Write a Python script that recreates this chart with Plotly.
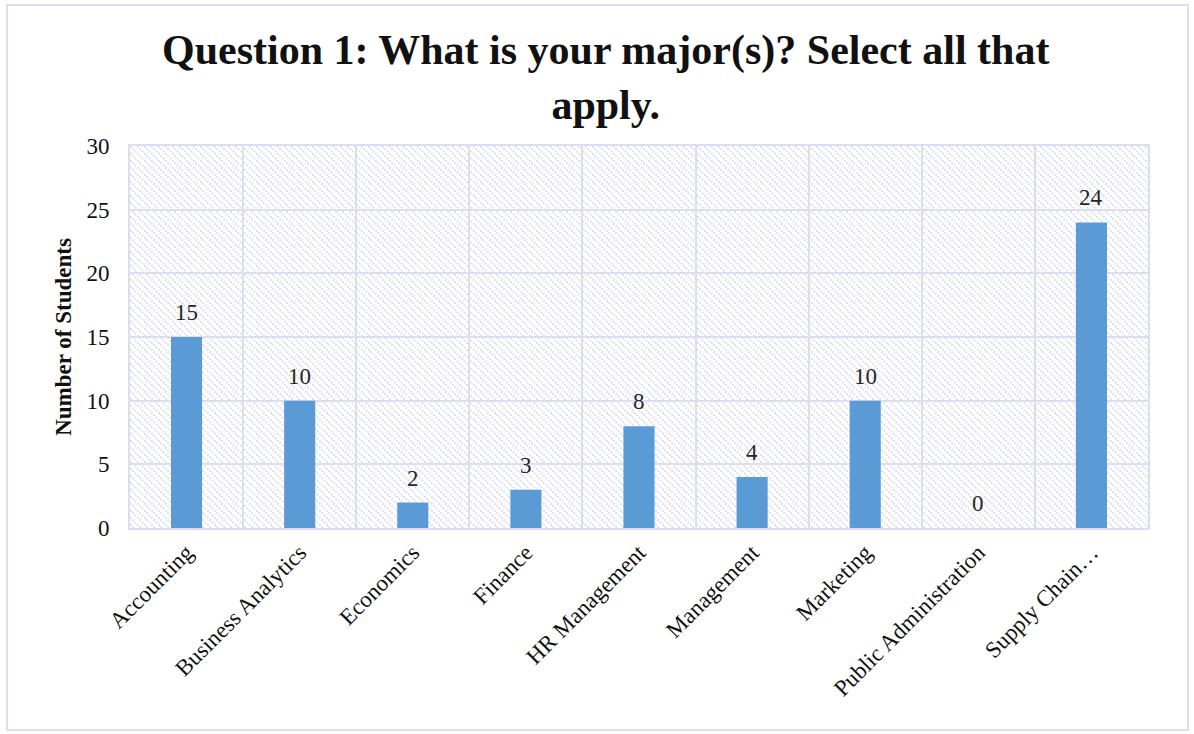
import base64
import plotly.graph_objects as go

# Survey responses: majors chosen by students (multiple answers allowed)
majors = [
    "Accounting", "Business Analytics", "Economics", "Finance",
    "HR Management", "Management", "Marketing",
    "Public Administration", "Supply Chain…",
]
students = [15, 10, 2, 3, 8, 4, 10, 0, 24]
y_ticks = [0, 5, 10, 15, 20, 25, 30]

TITLE = "Question 1: What is your major(s)? Select all that<br>apply."
FONT = "Liberation Serif, Times New Roman, serif"
GRID = "#dcdcf3"
BAR = "#5b9bd5"
INK = "#111111"

# Light downward-diagonal dotted hatch used as the plot-area fill
dots = "".join(
    f'<rect x="{k * 7 / 3:.2f}" y="{k * 7 / 3:.2f}" width="1.7" height="1.7" fill="#d4d4f0"/>'
    for k in range(3)
)
hatch_svg = (
    '<svg xmlns="http://www.w3.org/2000/svg" width="1018" height="382">'
    '<defs><pattern id="p" width="7" height="7" patternUnits="userSpaceOnUse">'
    + dots +
    '</pattern></defs>'
    '<rect width="100%" height="100%" fill="url(#p)"/></svg>'
)
hatch_uri = "data:image/svg+xml;base64," + base64.b64encode(hatch_svg.encode()).decode()

fig = go.Figure(
    go.Bar(
        x=majors,
        y=students,
        width=0.275,
        marker=dict(color=BAR, line=dict(width=0)),
        hoverinfo="x+y",
    )
)

# Value labels above each bar
for m, v in zip(majors, students):
    fig.add_annotation(
        x=m, y=v, text=str(v), showarrow=False,
        yanchor="bottom", yshift=10,
        font=dict(family=FONT, size=23, color="#262626"),
    )

W, H = 1194, 734
L, R, T, B = 130, 46, 146, 206
pw, ph = W - L - R, H - T - B

fig.add_annotation(
    xref="paper", yref="paper",
    x=(605 - L) / pw, y=(H - B - 77) / ph,
    text=TITLE, showarrow=False,
    xanchor="center", yanchor="middle",
    font=dict(family=FONT, size=42, color=INK, weight="bold"),
)

fig.update_layout(
    width=W,
    height=H,
    margin=dict(l=L, r=R, t=T, b=B),
    paper_bgcolor="white",
    plot_bgcolor="rgba(0,0,0,0)",
    showlegend=False,
    xaxis=dict(
        type="category",
        tickson="boundaries",
        showgrid=True,
        gridcolor=GRID,
        gridwidth=2,
        ticks="",
        tickangle=-45,
        tickfont=dict(family=FONT, size=23, color=INK),
        showline=True,
        linecolor=GRID,
        linewidth=2,
        mirror=True,
    ),
    yaxis=dict(
        range=[0, 30],
        tickvals=y_ticks,
        showgrid=True,
        gridcolor=GRID,
        gridwidth=2,
        zeroline=False,
        showline=True,
        linecolor=GRID,
        linewidth=2,
        mirror=True,
        ticks="outside",
        ticklen=14,
        tickcolor="rgba(0,0,0,0)",
        tickfont=dict(family=FONT, size=23, color=INK),
        title=dict(
            text="Number of Students",
            font=dict(family=FONT, size=23, color=INK, weight="bold"),
            standoff=8,
        ),
    ),
    images=[
        dict(
            source=hatch_uri,
            xref="paper", yref="paper",
            x=0, y=1, sizex=1, sizey=1,
            xanchor="left", yanchor="top",
            sizing="stretch",
            layer="below",
        )
    ],
    shapes=[
        dict(
            type="rect",
            xref="paper", yref="paper",
            x0=(7 - L) / pw, x1=(1188 - L) / pw,
            y0=(H - B - 730) / ph, y1=(H - B - 5) / ph,
            line=dict(color=GRID, width=2),
            fillcolor="rgba(0,0,0,0)",
            layer="below",
        )
    ],
)

fig.write_html("out.html")
